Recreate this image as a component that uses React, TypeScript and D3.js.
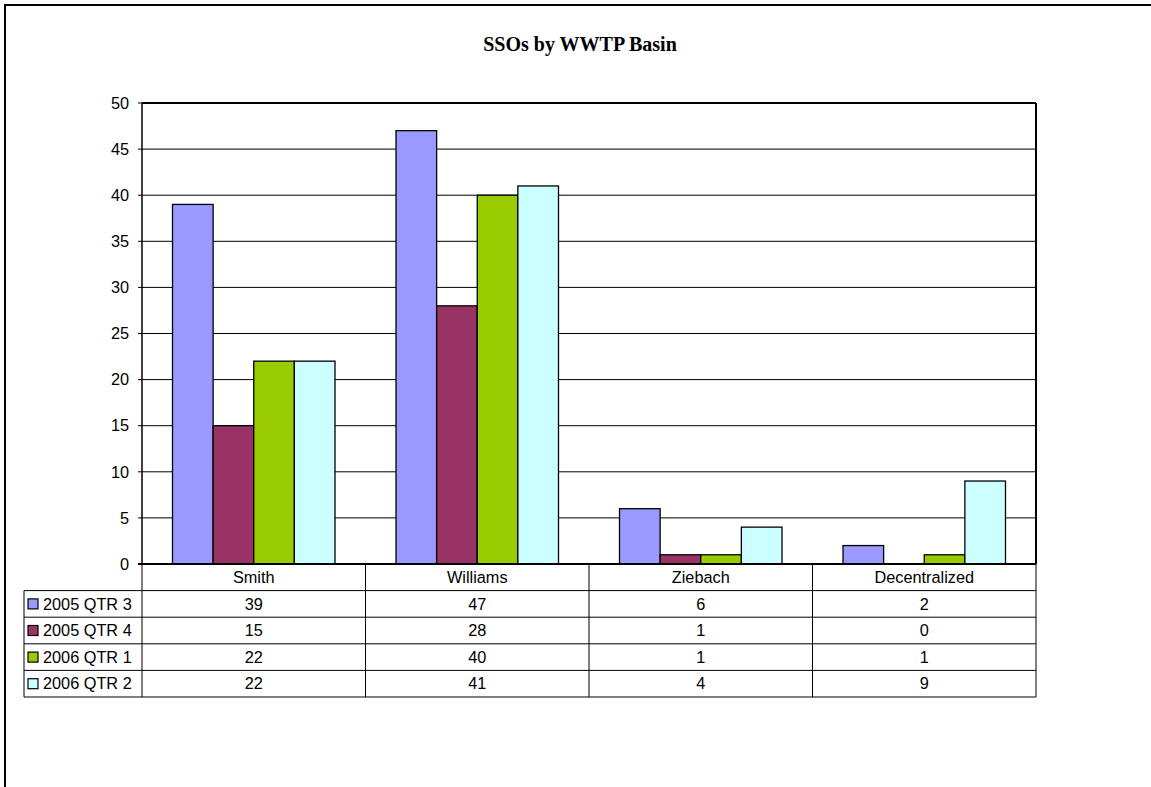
import React from "react";
import * as d3 from "d3";

const categories = ["Smith", "Williams", "Ziebach", "Decentralized"];
const seriesNames = ["2005 QTR 3", "2005 QTR 4", "2006 QTR 1", "2006 QTR 2"];
const q3_2005 = [39, 47, 6, 2];
const q4_2005 = [15, 28, 1, 0];
const q1_2006 = [22, 40, 1, 1];
const q2_2006 = [22, 41, 4, 9];
const seriesColors = ["#9999FF", "#993366", "#99CC00", "#CCFFFF"];
const yTicks = [0, 5, 10, 15, 20, 25, 30, 35, 40, 45, 50];
const title = "SSOs by WWTP Basin";

const seriesValues = [q3_2005, q4_2005, q1_2006, q2_2006];

export default function App() {
  const W = 1151;
  const H = 787;
  const left = 142;
  const right = 1036;
  const top = 103;
  const bottom = 564;
  const rowH = 26.6;
  const tableLeft = 24;
  const font = "Arial, 'Liberation Sans', sans-serif";
  const fs = 16.3;

  const x = d3.scaleBand<string>().domain(categories).range([left, right]).paddingInner(0).paddingOuter(0);
  const bw = x.bandwidth();
  const inner = d3
    .scaleBand<string>()
    .domain(seriesNames)
    .range([bw * 0.1365, bw * (1 - 0.1365)])
    .padding(0);
  const y = d3.scaleLinear().domain([0, 50]).range([bottom, top]);

  const tableBottom = bottom + rowH * 5;

  return (
    <svg
      width={W}
      height={H}
      style={{ position: "absolute", left: 0, top: 0, background: "#fff" }}
      fontFamily={font}
    >
      <rect x={0} y={0} width={W} height={H} fill="#fff" />
      {/* outer frame */}
      <rect x={5} y={5} width={W + 20} height={H + 20} fill="none" stroke="#000" strokeWidth={2} />
      <text
        x={580}
        y={51}
        textAnchor="middle"
        fontFamily="'Liberation Serif', 'Times New Roman', serif"
        fontWeight="bold"
        fontSize={20}
        fill="#000"
      >
        {title}
      </text>

      {/* gridlines */}
      {yTicks
        .filter((t) => t !== 0 && t !== 50)
        .map((t) => (
          <line key={"g" + t} x1={left} x2={right} y1={y(t)} y2={y(t)} stroke="#000" strokeWidth={1} />
        ))}

      {/* bars */}
      {categories.map((c, ci) =>
        seriesNames.map((s, si) => {
          const v = seriesValues[si][ci];
          if (v === 0) return null;
          const bx = (x(c) as number) + (inner(s) as number);
          return (
            <rect
              key={c + s}
              x={bx}
              y={y(v)}
              width={inner.bandwidth()}
              height={y(0) - y(v)}
              fill={seriesColors[si]}
              stroke="#000"
              strokeWidth={1.3}
            />
          );
        })
      )}

      {/* plot frame */}
      <line x1={left} x2={right} y1={top} y2={top} stroke="#000" strokeWidth={2} />
      <line x1={right} x2={right} y1={top} y2={bottom} stroke="#000" strokeWidth={2} />
      <line x1={left} x2={left} y1={top} y2={bottom} stroke="#000" strokeWidth={1.5} />
      <line x1={left - 4} x2={right} y1={bottom} y2={bottom} stroke="#000" strokeWidth={2} />

      {/* y ticks */}
      {yTicks.map((t) => (
        <g key={"t" + t}>
          <line x1={left - 4} x2={left} y1={y(t)} y2={y(t)} stroke="#000" strokeWidth={1} />
          <text x={129} y={y(t)} dy="0.35em" textAnchor="end" fontSize={fs} fill="#000">
            {t}
          </text>
        </g>
      ))}

      {/* data table */}
      {/* horizontal lines */}
      {[1, 2, 3, 4, 5].map((r) => (
        <line
          key={"h" + r}
          x1={tableLeft}
          x2={right}
          y1={bottom + rowH * r}
          y2={bottom + rowH * r}
          stroke="#000"
          strokeWidth={1}
        />
      ))}
      <line x1={tableLeft} x2={tableLeft} y1={bottom + rowH} y2={tableBottom} stroke="#000" strokeWidth={1} />
      {categories.map((c) => (
        <line
          key={"v" + c}
          x1={x(c) as number}
          x2={x(c) as number}
          y1={bottom}
          y2={tableBottom}
          stroke="#000"
          strokeWidth={1}
        />
      ))}
      <line x1={right} x2={right} y1={bottom} y2={tableBottom} stroke="#000" strokeWidth={1} />

      {categories.map((c) => (
        <text
          key={"c" + c}
          x={(x(c) as number) + bw / 2}
          y={bottom + rowH / 2}
          dy="0.35em"
          textAnchor="middle"
          fontSize={fs}
          fill="#000"
        >
          {c}
        </text>
      ))}

      {seriesNames.map((s, si) => {
        const cy = bottom + rowH * (si + 1) + rowH / 2;
        return (
          <g key={"row" + s}>
            <rect x={28} y={cy - 5} width={10} height={10} fill={seriesColors[si]} stroke="#000" strokeWidth={1.2} />
            <text x={43} y={cy} dy="0.35em" fontSize={fs} fill="#000">
              {s}
            </text>
            {categories.map((c, ci) => (
              <text
                key={s + c}
                x={(x(c) as number) + bw / 2}
                y={cy}
                dy="0.35em"
                textAnchor="middle"
                fontSize={fs}
                fill="#000"
              >
                {seriesValues[si][ci]}
              </text>
            ))}
          </g>
        );
      })}
    </svg>
  );
}
